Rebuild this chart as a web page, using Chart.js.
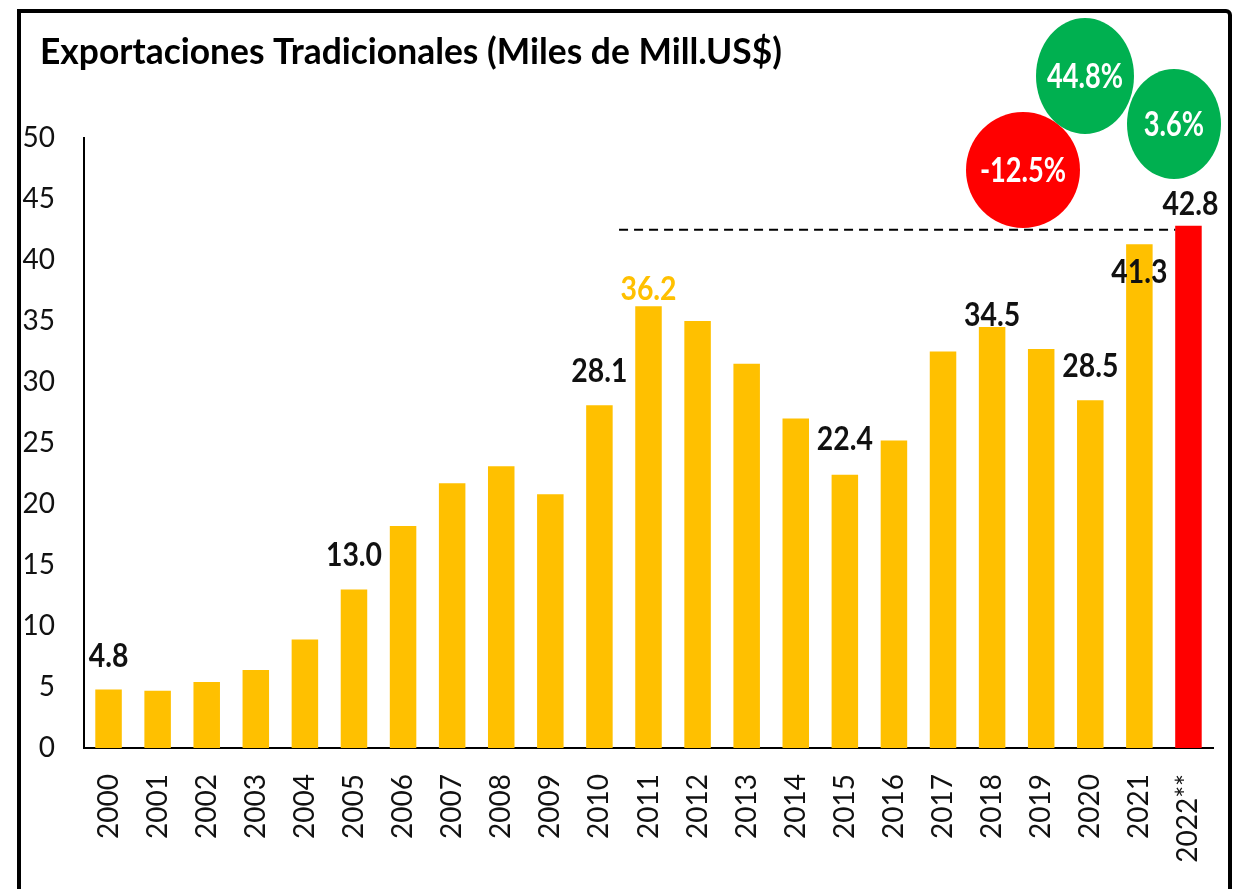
<!DOCTYPE html>
<html><head><meta charset="utf-8">
<script src="https://cdn.jsdelivr.net/npm/chart.js@4/dist/chart.umd.min.js"></script>
<style>html,body{margin:0;padding:0;background:#fff;overflow:hidden}#wrap{width:1240px;height:889px;position:relative}</style>
</head><body><div id="wrap"><canvas id="c" width="1240" height="889"></canvas></div>
<script>
const titleText = 'Exportaciones Tradicionales (Miles de Mill.US$)';
const categories = ['2000','2001','2002','2003','2004','2005','2006','2007','2008','2009','2010','2011','2012','2013','2014','2015','2016','2017','2018','2019','2020','2021','2022**'];
const values = [4.8,4.7,5.4,6.4,8.9,13.0,18.2,21.7,23.1,20.8,28.1,36.2,35.0,31.5,27.0,22.4,25.2,32.5,34.5,32.7,28.5,41.3,42.8];
const labeledIndices = [0,5,10,11,15,18,20,21,22];
const yTickValues = [0,5,10,15,20,25,30,35,40,45,50];
const changeTexts = ['-12.5%','44.8%','3.6%'];

// styles
const YELLOW = '#FFC000', RED = '#FF0000', GREEN = '#00B050';
const FONT = 'Lato, "Open Sans", sans-serif';
const labelStyle = {
  0:{dx:0,dy:-33}, 5:{dx:0,dy:-34}, 10:{dx:0,dy:-34}, 11:{dx:0,dy:-17,color:YELLOW},
  15:{dx:0,dy:-35}, 18:{dx:0,dy:-12}, 20:{dx:0,dy:-34}, 21:{dx:0,dy:28}, 22:{dx:2,dy:-21}
};
const circleStyle = [
  {cx:1023,cy:170,rx:57,ry:58,color:RED},
  {cx:1085,cy:76,rx:49,ry:58,color:GREEN},
  {cx:1174,cy:124,rx:47,ry:55,color:GREEN}
];
const lastIdx = values.length - 1;
const barColors = values.map((v,i)=> i===lastIdx ? RED : YELLOW);

function condensedText(ctx, text, x, y, sx){
  ctx.save();
  ctx.translate(x, y);
  ctx.scale(sx, 1);
  ctx.fillText(text, 0, 0);
  ctx.restore();
}

const decor = {
  id:'decor',
  beforeDraw(chart){
    const ctx = chart.ctx;
    ctx.save();
    ctx.fillStyle='#fff'; ctx.fillRect(0,0,chart.width,chart.height);
    ctx.strokeStyle='#000'; ctx.lineWidth=4;
    ctx.beginPath();
    ctx.moveTo(19,900); ctx.lineTo(19,11); ctx.lineTo(1226,11);
    ctx.arcTo(1230,11,1230,15,4); ctx.lineTo(1230,900);
    ctx.stroke();
    ctx.fillStyle='#000';
    ctx.font='bold 36px '+FONT;
    ctx.textBaseline='alphabetic'; ctx.textAlign='left';
    const w = ctx.measureText(titleText).width;
    condensedText(ctx, titleText, 40, 64, 742 / w);
    ctx.restore();
  },
  afterDatasetsDraw(chart){
    const ctx = chart.ctx, xs = chart.scales.x, ys = chart.scales.y;
    ctx.save();
    const yRef = ys.getPixelForValue(values[lastIdx]) + 4;
    const meta = chart.getDatasetMeta(0);
    const lastBar = meta.data[lastIdx];
    ctx.strokeStyle='#000'; ctx.lineWidth=2; ctx.setLineDash([9,6]);
    ctx.beginPath();
    ctx.moveTo(xs.getPixelForValue(10.4), yRef);
    ctx.lineTo(lastBar.x - lastBar.width/2, yRef);
    ctx.stroke();
    ctx.setLineDash([]);
    ctx.font='bold 33px '+FONT;
    ctx.textAlign='center'; ctx.textBaseline='middle';
    labeledIndices.forEach(i=>{
      const st = labelStyle[i] || {dx:0,dy:-30};
      const x = xs.getPixelForValue(i) + st.dx;
      const y = ys.getPixelForValue(values[i]) + st.dy;
      ctx.fillStyle = st.color || '#111';
      condensedText(ctx, values[i].toFixed(1), x, y, 0.86);
    });
    changeTexts.forEach((t,k)=>{
      const c = circleStyle[k];
      ctx.fillStyle=c.color;
      ctx.beginPath(); ctx.ellipse(c.cx,c.cy,c.rx,c.ry,0,0,Math.PI*2); ctx.fill();
      ctx.fillStyle='#fff'; ctx.font='bold 34px '+FONT;
      condensedText(ctx, t, c.cx, c.cy+1, 0.8);
    });
    ctx.restore();
  }
};

new Chart(document.getElementById('c'),{
  type:'bar',
  data:{labels:categories,datasets:[{data:values,backgroundColor:barColors,borderWidth:0,barPercentage:0.54,categoryPercentage:1}]},
  options:{
    responsive:false, animation:false, devicePixelRatio:1,
    layout:{padding:{left:0,right:27,top:138,bottom:0}},
    plugins:{legend:{display:false},tooltip:{enabled:false},title:{display:false}},
    scales:{
      x:{
        grid:{display:false,drawTicks:false},
        border:{display:true,color:'#000',width:2},
        ticks:{color:'#111',font:{family:FONT,size:28},minRotation:90,maxRotation:90,padding:26,autoSkip:false},
        afterFit(s){ s.height = 141; s.paddingLeft = 0; s.paddingRight = 0; }
      },
      y:{
        min:0,max:50,
        grid:{display:false,drawTicks:false},
        border:{display:true,color:'#000',width:2},
        afterBuildTicks(s){ s.ticks = yTickValues.map(v=>({value:v})); },
        ticks:{color:'#111',font:{family:FONT,size:28},padding:29},
        afterFit(s){ s.width = 84; s.paddingTop = 0; s.paddingBottom = 0; }
      }
    }
  },
  plugins:[decor]
});
</script></body></html>
